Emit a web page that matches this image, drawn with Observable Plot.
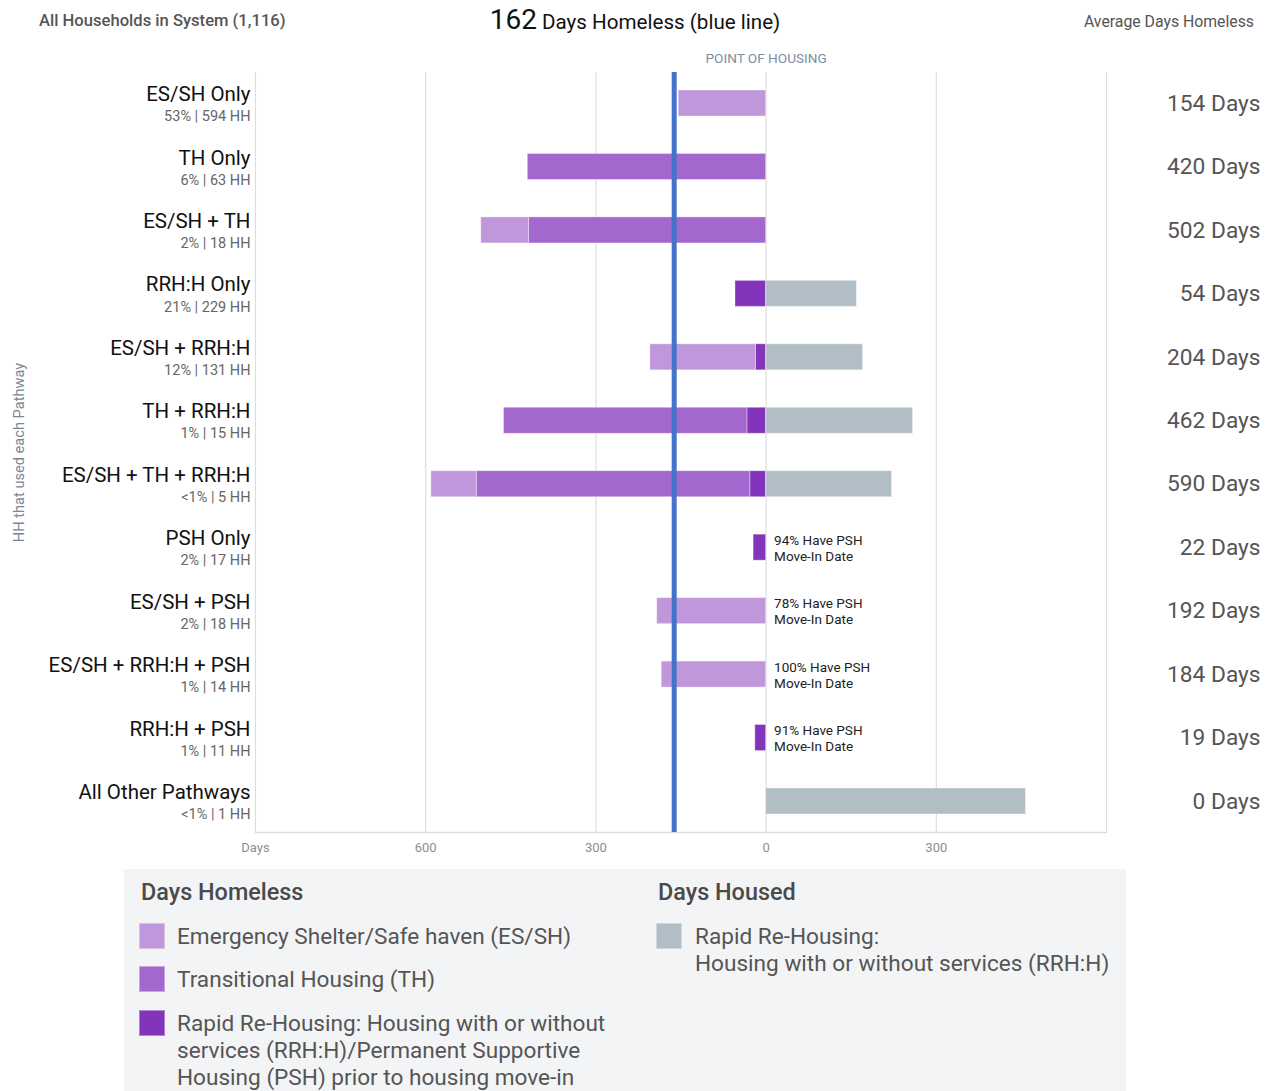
<!DOCTYPE html>
<html><head><meta charset="utf-8">
<script src="https://cdn.jsdelivr.net/npm/d3@7"></script>
<script src="https://cdn.jsdelivr.net/npm/@observablehq/plot@0.6"></script>
<style>
body{margin:0;background:#fff;font-family:Roboto,"Noto Sans",sans-serif;}
#header{position:relative;height:45px;width:1273px;}
#header div{position:absolute;white-space:nowrap;}
.hl{left:39px;top:11px;font-size:16.6px;color:#555;font-weight:500;}
.hc{left:0;width:1270px;text-align:center;top:3px;font-size:20.6px;color:#111;}
.hc .big{font-size:28px;}
.hr{right:19px;top:12px;font-size:15.8px;color:#555;}
#chart{height:824px;}
#legend{position:relative;margin-left:124px;width:1002px;height:222px;background:#f3f4f6;color:#555;}
#legend div{position:absolute;white-space:nowrap;}
.lh{font-size:23.4px;font-weight:500;color:#4a4a4a;line-height:26px;}
.sw{width:26px;height:26px;box-sizing:border-box;border:1px solid rgba(255,255,255,0.4);}
.lt{font-size:22.6px;line-height:27px;}
</style></head><body>
<div id="header">
  <div class="hl">All Households in System (1,116)</div>
  <div class="hc"><span class="big" id="avgAll"></span> Days Homeless (blue line)</div>
  <div class="hr">Average Days Homeless</div>
</div>
<div id="chart"></div>
<div id="legend"></div>
<script>
// ---- data ----
const categories = ["ES/SH Only","TH Only","ES/SH + TH","RRH:H Only","ES/SH + RRH:H","TH + RRH:H","ES/SH + TH + RRH:H","PSH Only","ES/SH + PSH","ES/SH + RRH:H + PSH","RRH:H + PSH","All Other Pathways"];
const subLabels = ["53% | 594 HH","6% | 63 HH","2% | 18 HH","21% | 229 HH","12% | 131 HH","1% | 15 HH","<1% | 5 HH","2% | 17 HH","2% | 18 HH","1% | 14 HH","1% | 11 HH","<1% | 1 HH"];
const esDays     = [154, 0, 84, 0, 186, 0, 80, 0, 192, 184, 0, 0];
const thDays     = [0, 420, 418, 0, 0, 429, 482, 0, 0, 0, 0, 0];
const pmiDays    = [0, 0, 0, 54, 18, 33, 28, 22, 0, 0, 19, 0];
const housedDays = [0, 0, 0, 160, 171, 259, 222, 0, 0, 0, 0, 458];
const avgDays    = [154, 420, 502, 54, 204, 462, 590, 22, 192, 184, 19, 0];
const pshNotes   = ["","","","","","","","94% Have PSH\nMove-In Date","78% Have PSH\nMove-In Date","100% Have PSH\nMove-In Date","91% Have PSH\nMove-In Date",""];
const avgAllDays = 162;
const pointOfHousing = 0;
const xTicks = [-900, -600, -300, 0, 300];
const gridDays = [-900, -600, -300, 0, 300, 600];
const typeKeys = ["es","th","pmi","housed"];
const typeColors = ["#bf97da","#a467cd","#8234bb","#b2bec6"];
const typeLabels = ["Emergency Shelter/Safe haven (ES/SH)","Transitional Housing (TH)","Rapid Re-Housing: Housing with or without<br>services (RRH:H)/Permanent Supportive<br>Housing (PSH) prior to housing move-in","Rapid Re-Housing:<br>Housing with or without services (RRH:H)"];

document.getElementById("avgAll").textContent = avgAllDays;

const rows = categories.map((c,i)=>({cat:c, sub:subLabels[i], avg:avgDays[i], note:pshNotes[i]}));
const segs = [];
categories.forEach((c,i)=>{
  const p=pmiDays[i], t=thDays[i], e=esDays[i], h=housedDays[i];
  if(p) segs.push({cat:c, type:"pmi", x1:-p, x2:0});
  if(t) segs.push({cat:c, type:"th", x1:-(p+t), x2:-p});
  if(e) segs.push({cat:c, type:"es", x1:-(p+t+e), x2:-(p+t)});
  if(h) segs.push({cat:c, type:"housed", x1:0, x2:h});
});
const fmt = d => d === -900 ? "Days" : String(Math.abs(d));

const chart = Plot.plot({
  width:1273, height:824, marginTop:27, marginBottom:37, marginLeft:255, marginRight:167,
  style:{fontFamily:"Roboto, sans-serif", background:"white", overflow:"visible"},
  x:{domain:[-900,600], label:null},
  y:{domain:categories, paddingInner:0.59, paddingOuter:0.284, round:false, label:null},
  color:{domain:typeKeys, range:typeColors},
  marks:[
    Plot.ruleX(gridDays, {stroke:"#dddddd", strokeWidth:1.2}),
    Plot.frame({anchor:"bottom", stroke:"#dddddd", strokeWidth:1.5}),
    Plot.barX(segs, {x1:"x1", x2:"x2", y:"cat", fill:"type", stroke:"white", strokeOpacity:0.35, strokeWidth:1}),
    Plot.ruleX([avgAllDays], {x:d=>-d, stroke:"#4573cb", strokeWidth:5}),
    Plot.axisX({ticks:xTicks, tickFormat:fmt, tickSize:0, tickPadding:10, fontSize:13, color:"#8a8f96", label:null}),
    Plot.axisY({tickSize:0, tickFormat:()=>"", label:"HH that used each Pathway", labelAnchor:"center", labelArrow:false, labelOffset:242, fontSize:14.6, color:"#7b8593"}),
    Plot.text(rows, {y:"cat", text:"cat", frameAnchor:"left", textAnchor:"end", dx:-5, dy:-9, fontSize:20.5, fill:"#111"}),
    Plot.text(rows, {y:"cat", text:"sub", frameAnchor:"left", textAnchor:"end", dx:-5, dy:13, fontSize:14.5, fill:"#666"}),
    Plot.text(rows, {y:"cat", text:d=>`${d.avg} Days`, frameAnchor:"right", textAnchor:"end", dx:154, fontSize:22.7, fill:"#555"}),
    Plot.text(rows.filter(d=>d.note), {x:()=>pointOfHousing, y:"cat", text:"note", textAnchor:"start", dx:8, fontSize:13.5, lineHeight:1.18, fill:"#222"}),
    Plot.text(["POINT OF HOUSING"], {x:()=>pointOfHousing, frameAnchor:"top", dy:-19, text:d=>d, fontSize:13.6, fill:"#7b8ea3"})
  ]
});
document.getElementById("chart").append(chart);

// ---- legend ----
const lg = document.getElementById("legend");
function add(cls, css, html){ const d=document.createElement("div"); d.className=cls; d.style.cssText=css; d.innerHTML=html||""; lg.append(d); }
add("lh","left:17px;top:10px;","Days Homeless");
add("lh","left:534px;top:10px;","Days Housed");
const leftTops = [54, 97, 141];
[0,1,2].forEach((k,i)=>{
  add("sw",`left:15px;top:${leftTops[i]}px;background:${typeColors[k]};`);
  add("lt",`left:53px;top:${leftTops[i]-0.5}px;`, typeLabels[k]);
});
add("sw",`left:532px;top:54px;background:${typeColors[3]};`);
add("lt",`left:571px;top:53.5px;`, typeLabels[3]);
</script>
</body></html>
